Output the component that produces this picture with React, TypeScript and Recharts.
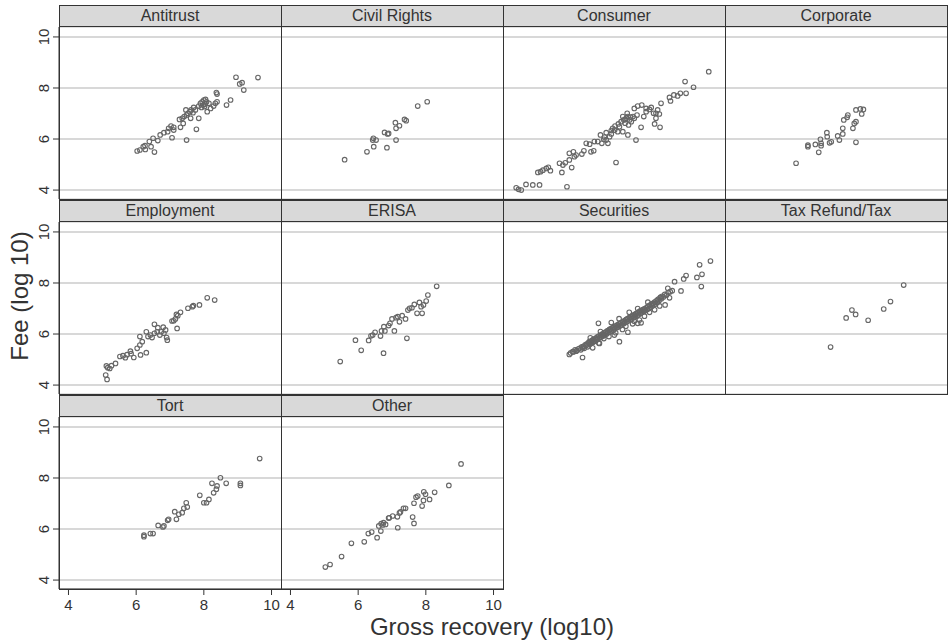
import { ScatterChart, Scatter, XAxis, YAxis, ReferenceLine, CartesianGrid } from 'recharts';

// values, [gross recovery, fee] in log10
const antitrust = [
  [6.03, 5.53], [6.11, 5.57], [6.21, 5.7], [6.26, 5.74], [6.27, 5.59], [6.39, 5.9], [6.44, 5.7], [6.5, 6.03],
  [6.54, 5.49], [6.64, 5.94], [6.71, 6.16], [6.82, 6.25], [6.93, 6.29], [6.96, 6.42], [7.03, 6.51], [7.06, 6.05],
  [7.11, 6.35], [7.11, 6.46], [7.31, 6.46], [7.39, 6.61], [7.49, 5.96], [7.28, 6.77], [7.36, 6.81], [7.42, 6.88],
  [7.49, 6.94], [7.53, 7.01], [7.59, 7.07], [7.61, 6.81], [7.62, 7.14], [7.68, 7.03], [7.7, 7.24], [7.75, 7.14],
  [7.78, 6.38], [7.85, 6.81], [7.85, 7.29], [7.9, 7.4], [7.95, 7.46], [8.0, 7.53], [8.02, 7.27], [8.05, 7.55],
  [8.08, 7.46], [8.1, 7.07], [8.2, 7.2], [8.29, 7.29], [8.34, 7.4], [8.37, 7.82], [8.39, 7.76], [8.39, 7.46],
  [8.67, 7.33], [8.79, 7.53], [8.95, 8.42], [9.06, 8.16], [9.13, 8.21], [9.18, 7.92], [9.6, 8.41], [7.93, 7.24],
  [7.98, 7.33], [8.04, 7.37], [7.47, 7.14], [8.15, 7.4],
];

const civilRights = [
  [5.6, 5.19], [6.26, 5.5], [6.46, 5.7], [6.43, 5.96], [6.45, 6.03], [6.53, 5.96], [6.78, 6.26], [6.85, 5.66],
  [6.87, 6.2], [6.9, 6.22], [7.1, 6.64], [7.12, 5.96], [7.12, 6.42], [7.22, 6.52], [7.37, 6.77], [7.42, 6.72],
  [7.76, 7.29], [8.04, 7.46],
];

const consumer = [
  [4.11, 4.09], [4.18, 4.03], [4.26, 4.0], [4.4, 4.22], [4.6, 4.2], [4.8, 4.2], [5.61, 4.13], [4.75, 4.69],
  [4.83, 4.72], [4.9, 4.78], [5.0, 4.85], [5.06, 4.89], [5.12, 4.76], [5.39, 5.05], [5.46, 4.69], [5.49, 4.98],
  [5.56, 5.07], [5.68, 5.18], [5.68, 5.44], [5.75, 4.88], [5.8, 5.5], [5.83, 5.31], [5.88, 5.37], [6.05, 5.41],
  [6.11, 5.54], [6.18, 5.83], [6.28, 5.8], [6.32, 5.5], [6.4, 5.54], [6.42, 5.9], [6.52, 5.9], [6.6, 6.16],
  [6.64, 5.83], [6.7, 5.99], [6.77, 6.25], [6.82, 5.83], [6.87, 6.09], [6.92, 6.33], [6.96, 6.42], [7.06, 5.08],
  [7.03, 6.51], [7.11, 6.29], [7.13, 6.59], [7.21, 6.68], [7.26, 6.29], [7.29, 6.75], [7.33, 6.62], [7.36, 6.81],
  [7.39, 7.01], [7.41, 6.16], [7.43, 6.55], [7.46, 6.75], [7.51, 6.68], [7.56, 6.88], [7.6, 7.2], [7.6, 6.81],
  [7.65, 5.96], [7.68, 6.94], [7.8, 6.46], [7.82, 7.33], [7.88, 6.88], [7.95, 7.2], [8.05, 7.16], [8.1, 7.24],
  [8.17, 7.01], [8.2, 6.59], [8.24, 6.81], [8.29, 7.14], [8.34, 6.98], [8.36, 6.46], [8.39, 7.4], [8.64, 7.63],
  [8.67, 7.49], [8.77, 7.73], [8.88, 7.69], [8.96, 7.79], [9.13, 7.79], [9.1, 8.25], [9.35, 8.03], [9.8, 8.64],
  [7.26, 6.88], [7.33, 6.77], [7.41, 6.88], [7.49, 6.86], [7.16, 6.48], [7.02, 6.35], [6.72, 6.08], [6.77, 5.96],
  [6.92, 6.2], [7.95, 7.07], [8.24, 7.01], [7.7, 7.29],
];

const corporate = [
  [5.82, 5.05], [6.17, 5.76], [6.17, 5.7], [6.39, 5.79], [6.49, 5.48], [6.54, 5.99], [6.56, 5.83], [6.56, 5.74],
  [6.73, 6.25], [6.74, 6.09], [6.81, 5.85], [6.86, 5.89], [7.05, 6.12], [7.1, 5.96], [7.2, 6.42], [7.2, 6.2],
  [7.23, 6.75], [7.33, 6.85], [7.35, 6.94], [7.5, 6.42], [7.54, 6.61], [7.59, 6.68], [7.59, 5.87], [7.59, 7.14],
  [7.72, 7.18], [7.76, 6.98], [7.81, 7.16],
];

const employment = [
  [5.1, 4.39], [5.14, 4.22], [5.12, 4.75], [5.16, 4.68], [5.22, 4.65], [5.27, 4.76], [5.39, 4.85], [5.52, 5.12],
  [5.61, 5.15], [5.68, 5.07], [5.73, 5.19], [5.83, 5.33], [5.85, 5.23], [5.93, 5.08], [6.03, 5.44], [6.11, 5.57],
  [6.11, 5.9], [6.13, 5.18], [6.18, 5.7], [6.3, 5.27], [6.3, 6.09], [6.35, 5.9], [6.42, 5.96], [6.47, 5.86],
  [6.54, 6.38], [6.54, 6.03], [6.62, 6.09], [6.64, 6.25], [6.7, 5.96], [6.74, 6.09], [6.8, 6.27], [6.82, 6.03],
  [6.87, 6.16], [6.9, 5.86], [6.92, 5.76], [7.06, 6.51], [7.11, 6.52], [7.16, 6.59], [7.19, 6.77], [7.21, 6.22],
  [7.23, 6.72], [7.31, 6.85], [7.53, 7.01], [7.66, 7.07], [7.69, 7.11], [7.87, 7.14], [8.1, 7.42], [8.32, 7.33],
];

const erisa = [
  [5.47, 4.92], [5.92, 5.76], [6.09, 5.36], [6.31, 5.75], [6.38, 5.93], [6.43, 5.96], [6.5, 6.07], [6.66, 5.92],
  [6.69, 6.12], [6.75, 5.25], [6.76, 6.29], [6.79, 6.12], [6.9, 6.33], [6.94, 6.42], [7.0, 6.59], [7.07, 6.12],
  [7.12, 6.64], [7.17, 6.68], [7.22, 6.48], [7.3, 6.72], [7.4, 6.59], [7.44, 5.83], [7.47, 6.94], [7.52, 7.01],
  [7.59, 7.03], [7.66, 7.16], [7.74, 6.81], [7.81, 7.24], [7.86, 7.07], [7.89, 6.81], [7.93, 7.14], [8.01, 7.29],
  [8.06, 7.53], [8.32, 7.87],
];

const securities = [
  [5.68, 5.2], [5.78, 5.31], [5.88, 5.33], [6.07, 5.08], [6.27, 5.7], [6.37, 5.46], [6.54, 6.42], [6.57, 5.63],
  [7.01, 5.96], [7.16, 5.7], [7.41, 6.07], [7.7, 6.42], [7.8, 6.44], [8.51, 7.14], [8.64, 7.42], [8.59, 7.79],
  [8.79, 8.05], [8.98, 7.69], [9.06, 8.16], [9.13, 8.29], [9.45, 8.22], [9.53, 8.71], [9.58, 7.86], [9.6, 8.34],
  [9.85, 8.86],
  [5.72, 5.26], [5.8, 5.3], [5.85, 5.38], [5.9, 5.35], [5.95, 5.42], [6.0, 5.45], [6.02, 5.38], [6.05, 5.5],
  [6.1, 5.52], [6.12, 5.44], [6.15, 5.58], [6.18, 5.55], [6.2, 5.62], [6.22, 5.5], [6.25, 5.66], [6.28, 5.6],
  [6.3, 5.7], [6.32, 5.64], [6.35, 5.75], [6.38, 5.68], [6.4, 5.8], [6.42, 5.72], [6.45, 5.82], [6.47, 5.76],
  [6.5, 5.88], [6.52, 5.8], [6.55, 5.92], [6.58, 5.86], [6.6, 5.95], [6.62, 5.88], [6.65, 6.0], [6.68, 5.92],
  [6.7, 6.04], [6.72, 5.96], [6.75, 6.08], [6.78, 6.0], [6.8, 6.12], [6.82, 6.05], [6.85, 6.15], [6.88, 6.08],
  [6.9, 6.2], [6.92, 6.12], [6.95, 6.24], [6.98, 6.15], [7.0, 6.28], [7.02, 6.2], [7.05, 6.32], [7.08, 6.25],
  [7.1, 6.36], [7.12, 6.28], [7.15, 6.4], [7.18, 6.32], [7.2, 6.44], [7.22, 6.36], [7.25, 6.48], [7.28, 6.4],
  [7.3, 6.52], [7.32, 6.44], [7.35, 6.56], [7.38, 6.48], [7.4, 6.6], [7.42, 6.52], [7.45, 6.64], [7.48, 6.56],
  [7.5, 6.68], [7.52, 6.6], [7.55, 6.72], [7.58, 6.64], [7.6, 6.76], [7.62, 6.68], [7.65, 6.8], [7.68, 6.72],
  [7.7, 6.84], [7.72, 6.76], [7.75, 6.88], [7.78, 6.8], [7.8, 6.92], [7.82, 6.84], [7.85, 6.95], [7.88, 6.88],
  [7.9, 6.99], [7.92, 6.92], [7.95, 7.03], [7.98, 6.96], [8.0, 7.08], [8.03, 7.0], [8.05, 7.12], [8.08, 7.05],
  [8.1, 7.16], [8.13, 7.1], [8.15, 7.2], [8.18, 7.14], [8.2, 7.25], [8.23, 7.18], [8.25, 7.3], [8.28, 7.24],
  [8.3, 7.36], [8.33, 7.3], [8.36, 7.42], [8.4, 7.38], [8.42, 7.48], [8.46, 7.45], [8.5, 7.55], [8.55, 7.52],
  [8.6, 7.62], [8.66, 7.66], [8.72, 7.7],
  [6.55, 5.65], [6.7, 5.82], [6.85, 5.9], [7.05, 6.05], [7.25, 6.18], [7.35, 6.3], [7.55, 6.4], [7.6, 6.5],
  [7.75, 6.55], [7.9, 6.7], [8.05, 6.85], [8.2, 6.95], [8.35, 7.1], [6.92, 6.45], [7.15, 6.6], [7.45, 6.85],
  [7.7, 7.0], [8.0, 7.25], [6.3, 5.85], [6.6, 6.1],
  [6.08, 5.47], [6.34, 5.7], [6.63, 5.97], [6.87, 6.18], [7.13, 6.34], [7.37, 6.58], [7.63, 6.74], [7.87, 6.97],
  [8.12, 7.18], [8.38, 7.45], [6.48, 5.84], [6.76, 6.06], [7.03, 6.24], [7.27, 6.46], [7.53, 6.66], [7.77, 6.9],
];

const taxRefund = [
  [6.84, 5.49], [7.3, 6.63], [7.47, 6.94], [7.58, 6.77], [7.95, 6.54], [8.41, 6.98], [8.61, 7.27], [9.0, 7.92],
];

const tort = [
  [6.23, 5.7], [6.23, 5.76], [6.42, 5.82], [6.5, 5.82], [6.65, 6.14], [6.79, 6.08], [6.82, 6.12], [6.93, 6.34],
  [6.96, 6.38], [7.14, 6.68], [7.19, 6.38], [7.26, 6.58], [7.36, 6.64], [7.41, 6.81], [7.48, 7.03], [7.51, 6.86],
  [7.88, 7.32], [8.0, 7.03], [8.08, 7.03], [8.15, 7.16], [8.24, 7.79], [8.29, 7.42], [8.37, 7.56], [8.39, 7.69],
  [8.49, 8.01], [8.66, 7.79], [9.08, 7.79], [9.08, 7.71], [9.65, 8.76],
];

const other = [
  [5.03, 4.51], [5.17, 4.61], [5.51, 4.92], [5.8, 5.44], [6.18, 5.5], [6.3, 5.82], [6.4, 5.88], [6.56, 5.66],
  [6.61, 6.12], [6.67, 5.92], [6.68, 6.21], [6.73, 6.16], [6.75, 6.25], [6.81, 6.18], [6.9, 6.43], [6.92, 6.44],
  [7.02, 6.51], [7.16, 6.48], [7.17, 6.05], [7.22, 6.63], [7.25, 6.67], [7.34, 6.81], [7.4, 6.81], [7.61, 6.47],
  [7.65, 6.22], [7.65, 7.01], [7.71, 7.25], [7.76, 7.29], [7.89, 6.9], [7.93, 7.12], [7.94, 7.46], [7.99, 7.36],
  [8.11, 7.16], [8.26, 7.44], [8.68, 7.71], [9.04, 8.55],
];

const categories = [
  'Antitrust', 'Civil Rights', 'Consumer', 'Corporate', 'Employment',
  'ERISA', 'Securities', 'Tax Refund/Tax', 'Tort', 'Other',
];
const seriesByCategory = [
  antitrust, civilRights, consumer, corporate, employment,
  erisa, securities, taxRefund, tort, other,
];

const xTicks = [4, 6, 8, 10];
const yTicks = [4, 6, 8, 10];
const xTitle = 'Gross recovery (log10)';
const yTitle = 'Fee (log 10)';

// layout (pixels)
const COL_LEFT = [59, 281, 503, 725];
const PANEL_W = 222;
const HEADER_TOP = [5, 200, 395];
const PLOT_TOP = [27, 222, 417];
const PLOT_H = 172;
const AXIS_W = 30;
const AXIS_H = 28;
const FONT = '"Liberation Sans", Arial, Helvetica, sans-serif';

const YTick = (props: any) => {
  const { x, y, payload } = props;
  return (
    <text
      x={x}
      y={y}
      dy={-2}
      transform={`rotate(-90 ${x} ${y})`}
      textAnchor="middle"
      fontSize={15}
      fill="#333"
    >
      {payload.value}
    </text>
  );
};

const HollowDot = (props: any) => (
  <circle cx={props.cx} cy={props.cy} r={2.3} fill="none" stroke="#666" strokeWidth={1.1} />
);

function Panel({ title, points, index }: { title: string; points: number[][]; index: number }) {
  const col = index % 4;
  const row = Math.floor(index / 4);
  const withY = col === 0;
  const withX = row === 2;
  const data = points.map(([x, y]) => ({ x, y }));
  const left = COL_LEFT[col] - (withY ? AXIS_W : 0);
  const w = PANEL_W + (withY ? AXIS_W : 0);
  const h = PLOT_H + (withX ? AXIS_H : 0);

  return (
    <>
      <div
        style={{
          position: 'absolute',
          left: COL_LEFT[col],
          top: HEADER_TOP[row],
          width: PANEL_W,
          height: PLOT_TOP[row] - HEADER_TOP[row],
          background: '#d9d9d9',
          boxSizing: 'border-box',
          borderBottom: '1px solid #333',
          textAlign: 'center',
          fontSize: 16,
          lineHeight: `${PLOT_TOP[row] - HEADER_TOP[row]}px`,
          color: '#333',
        }}
      >
        {title}
      </div>
      <div style={{ position: 'absolute', left, top: PLOT_TOP[row] }}>
        <ScatterChart width={w} height={h} margin={{ top: 0, right: 0, bottom: 0, left: 0 }}>
          <CartesianGrid horizontal vertical={false} stroke="#d6d6d6" strokeWidth={1.5} />
          <XAxis
            type="number"
            dataKey="x"
            domain={[3.72, 10.28]}
            ticks={xTicks}
            interval={0}
            allowDataOverflow
            hide={!withX}
            height={AXIS_H}
            tickSize={6}
            tickMargin={4}
            tick={{ fontSize: 15, fill: '#333' }}
            stroke="#333"
          />
          <YAxis
            type="number"
            dataKey="y"
            domain={[3.65, 10.39]}
            ticks={yTicks}
            interval={0}
            allowDataOverflow
            hide={!withY}
            width={AXIS_W}
            tickSize={6}
            tick={<YTick />}
            stroke="#333"
          />
          {yTicks.map((v) => (
            <ReferenceLine key={v} y={v} stroke="#d6d6d6" strokeWidth={1.5} ifOverflow="visible" />
          ))}
          <Scatter data={data} shape={<HollowDot />} isAnimationActive={false} />
        </ScatterChart>
      </div>
      <div
        style={{
          position: 'absolute',
          left: COL_LEFT[col],
          top: HEADER_TOP[row],
          width: PANEL_W + 1,
          height: PLOT_TOP[row] + PLOT_H - HEADER_TOP[row] + 1,
          boxSizing: 'border-box',
          border: '1px solid #333',
          pointerEvents: 'none',
        }}
      />
    </>
  );
}

export default function App() {
  return (
    <div
      style={{
        position: 'absolute',
        left: 0,
        top: 0,
        width: 948,
        height: 644,
        background: '#fff',
        fontFamily: FONT,
        overflow: 'hidden',
      }}
    >
      {categories.map((c, i) => (
        <Panel key={c} title={c} points={seriesByCategory[i]} index={i} />
      ))}
      <svg width={948} height={644} style={{ position: 'absolute', left: 0, top: 0, pointerEvents: 'none' }}>
        <text
          x={28}
          y={296}
          transform="rotate(-90 28 296)"
          textAnchor="middle"
          fontSize={24}
          fill="#333"
          fontFamily={FONT}
        >
          {yTitle}
        </text>
        <text x={492} y={635} textAnchor="middle" fontSize={24} fill="#333" fontFamily={FONT}>
          {xTitle}
        </text>
      </svg>
    </div>
  );
}
